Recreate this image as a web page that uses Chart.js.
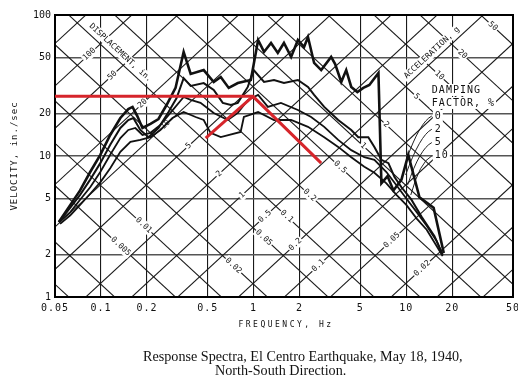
<!DOCTYPE html>
<html>
<head>
<meta charset="utf-8">
<script src="https://cdn.jsdelivr.net/npm/chart.js@4.4.0/dist/chart.umd.min.js"></script>
<style>
  html, body { margin: 0; padding: 0; background: #fff; }
</style>
</head>
<body>
<canvas id="myChart" width="518" height="383"></canvas>
<script>
// axis ticks
const freqTicks = [0.05, 0.1, 0.2, 0.5, 1, 2, 5, 10, 20, 50];
const velTicks = [1, 2, 5, 10, 20, 50, 100];

// damping 0 %
const freq0 = [0.053, 0.063, 0.073, 0.085, 0.099, 0.115, 0.134, 0.151, 0.161, 0.173, 0.187, 0.211, 0.238, 0.269, 0.308, 0.348, 0.387, 0.471, 0.548, 0.609, 0.687, 0.788, 0.959, 1.07, 1.17, 1.30, 1.44, 1.58, 1.76, 1.95, 2.14, 2.27, 2.49, 2.77, 3.22, 3.42, 3.75, 4.04, 4.36, 4.78, 5.23, 5.73, 6.57, 6.87, 7.53, 8.24, 9.30, 10.3, 12.2, 15.1, 17.6];
const vel0 = [3.4, 4.5, 5.7, 7.7, 10.2, 14.1, 18.6, 21.5, 22.3, 19.2, 15.8, 16.9, 18.3, 23.0, 30.4, 54.7, 38.2, 40.7, 33.5, 36.3, 30.4, 32.9, 34.6, 66.5, 54.7, 63.3, 53.8, 63.3, 50.4, 66.5, 59.3, 69.8, 45.7, 40.7, 50.4, 44.9, 33.5, 40.7, 30.9, 28.4, 30.4, 31.9, 38.8, 6.4, 7.2, 5.7, 6.8, 10.2, 5.1, 4.3, 2.05];

// damping 2 %
const freq2 = [0.053, 0.063, 0.073, 0.085, 0.099, 0.115, 0.134, 0.151, 0.163, 0.181, 0.205, 0.238, 0.277, 0.313, 0.348, 0.387, 0.471, 0.548, 0.628, 0.709, 0.788, 0.916, 1.00, 1.17, 1.36, 1.58, 1.95, 2.27, 2.49, 2.90, 3.58, 4.36, 4.85, 5.64, 6.18, 6.87, 7.64, 8.37, 9.30, 10.8, 12.6, 15.3, 17.3];
const vel2 = [3.4, 4.3, 5.3, 6.8, 8.9, 12.0, 15.8, 18.0, 18.6, 15.3, 13.6, 15.8, 20.5, 25.8, 35.7, 31.4, 32.9, 29.4, 23.8, 23.0, 23.8, 30.9, 40.7, 33.5, 34.6, 32.9, 34.6, 30.9, 27.1, 22.3, 18.0, 15.3, 13.6, 13.6, 11.6, 9.4, 8.9, 7.1, 6.0, 4.9, 3.7, 2.7, 2.0];

// damping 5 %
const freq5 = [0.053, 0.063, 0.073, 0.085, 0.099, 0.115, 0.134, 0.151, 0.168, 0.187, 0.211, 0.245, 0.285, 0.348, 0.387, 0.449, 0.548, 0.677, 0.788, 0.918, 1.07, 1.24, 1.51, 1.95, 2.38, 2.90, 3.58, 4.36, 5.31, 6.18, 7.41, 8.62, 10.0, 11.7, 13.6, 15.8, 17.3];
const vel5 = [3.4, 4.0, 4.9, 6.0, 7.7, 10.2, 13.4, 15.3, 15.8, 14.1, 14.6, 16.6, 20.2, 26.2, 25.0, 23.8, 20.2, 18.0, 20.2, 25.0, 27.1, 22.3, 23.8, 21.2, 18.9, 16.1, 13.0, 11.0, 9.8, 9.4, 7.7, 6.2, 5.0, 4.0, 3.2, 2.5, 2.0];

// damping 10 %
const freq10 = [0.054, 0.063, 0.073, 0.085, 0.099, 0.115, 0.134, 0.156, 0.181, 0.211, 0.245, 0.294, 0.348, 0.417, 0.471, 0.522, 0.609, 0.822, 0.863, 1.07, 1.36, 1.76, 2.27, 2.90, 3.58, 4.36, 5.31, 6.18, 7.41, 8.62, 10.0, 11.7, 13.6, 15.8, 17.3];
const vel10 = [3.3, 3.8, 4.5, 5.4, 6.5, 8.2, 10.7, 12.6, 13.0, 13.6, 15.3, 18.6, 20.5, 18.9, 18.0, 14.6, 13.6, 14.8, 18.9, 20.5, 18.0, 18.0, 16.1, 13.6, 11.6, 9.8, 8.4, 7.6, 6.4, 5.3, 4.5, 3.6, 3.0, 2.3, 1.95];

// red design lines
const designFreq = [0.05, 0.99, 2.77];
const designVel = [26.5, 26.5, 8.9];
const designRiseFreq = [0.485, 0.99];
const designRiseVel = [13.4, 26.5];

// tripartite grid: displacement (in.) and acceleration (g)
const dispLines = [0.002, 0.005, 0.01, 0.02, 0.05, 0.1, 0.2, 0.5, 1, 2, 5, 10, 20, 50, 100, 200, 500];
const accelLines = [0.0005, 0.001, 0.002, 0.005, 0.01, 0.02, 0.05, 0.1, 0.2, 0.5, 1, 2, 5, 10, 20, 50, 100];
const dispLabels = [100, 50, 20, 10, 5, 2, 1, 0.5, 0.2, 0.1];
const dispLabelsLow = [0.05, 0.02];
const accelLabels = [50, 20, 10, 5, 2, 1, 0.5, 0.2, 0.1, 0.05, 0.02];
const accelLabelsLow = [0.01, 0.005];
const dampingNames = ['0', '2', '5', '10'];

const G = 386.4; // in/s^2
const TWO_PI = 2 * Math.PI;
const velFromDisp = (f, d) => TWO_PI * f * d;
const velFromAccel = (f, a) => a * G / (TWO_PI * f);
// where a displacement line crosses an acceleration line
function cross(d, a) {
  const f = Math.sqrt(a * G / (TWO_PI * TWO_PI * d));
  return { f: f, v: TWO_PI * f * d };
}

const toPoints = (fs, vs) => fs.map((f, i) => ({ x: f, y: vs[i] }));
const MONO = '"DejaVu Sans Mono", monospace';

function tag(ctx, text, px, py, angle, font, pad) {
  ctx.save();
  ctx.translate(px, py);
  ctx.rotate(angle);
  ctx.font = font;
  const w = ctx.measureText(text).width;
  ctx.fillStyle = '#fff';
  ctx.fillRect(-w / 2 - pad, -5, w + pad * 2, 10);
  ctx.fillStyle = '#111';
  ctx.textAlign = 'center';
  ctx.textBaseline = 'middle';
  ctx.fillText(text, 0, 0);
  ctx.restore();
}

function boxText(ctx, text, x, y) {
  const w = ctx.measureText(text).width;
  ctx.fillStyle = '#fff';
  ctx.fillRect(x - 2, y - 6, w + 3, 12);
  ctx.fillStyle = '#111';
  ctx.fillText(text, x, y);
}

const tripartite = {
  id: 'tripartite',
  beforeDatasetsDraw(chart) {
    const { ctx, chartArea: a } = chart;
    const x = chart.scales.x, y = chart.scales.y;
    const px = f => x.getPixelForValue(f);
    const py = v => y.getPixelForValue(v);
    const f1 = 0.05, f2 = 50;

    ctx.save();
    ctx.beginPath();
    ctx.rect(a.left, a.top, a.right - a.left, a.bottom - a.top);
    ctx.clip();
    ctx.strokeStyle = '#1a1a1a';
    ctx.lineWidth = 1.1;
    dispLines.forEach(d => {
      ctx.beginPath();
      ctx.moveTo(px(f1), py(velFromDisp(f1, d)));
      ctx.lineTo(px(f2), py(velFromDisp(f2, d)));
      ctx.stroke();
    });
    accelLines.forEach(g => {
      ctx.beginPath();
      ctx.moveTo(px(f1), py(velFromAccel(f1, g)));
      ctx.lineTo(px(f2), py(velFromAccel(f2, g)));
      ctx.stroke();
    });

    // slope of a displacement line on screen
    const up = Math.atan2(py(10) - py(1), px(10) - px(1));
    const down = -up;
    const small = '8px ' + MONO;
    dispLabels.forEach(d => {
      const p = cross(d, 0.072);
      tag(ctx, String(d), px(p.f), py(p.v), up, small, 1);
    });
    dispLabelsLow.forEach(d => {
      const p = cross(d, 0.33);
      tag(ctx, String(d), px(p.f), py(p.v), up, small, 1);
    });
    accelLabels.forEach(g => {
      const p = cross(0.36, g);
      tag(ctx, String(g), px(p.f), py(p.v), down, small, 1);
    });
    accelLabelsLow.forEach(g => {
      const p = cross(2.7, g);
      tag(ctx, String(g), px(p.f), py(p.v), down, small, 1);
    });
    tag(ctx, 'DISPLACEMENT, in.', px(0.134), py(54), down, small, 2);
    tag(ctx, 'ACCELERATION, g', px(14.7), py(54), up, small, 2);
    ctx.restore();

    // frame
    ctx.save();
    ctx.strokeStyle = '#000';
    ctx.lineWidth = 2;
    ctx.strokeRect(a.left, a.top, a.right - a.left, a.bottom - a.top);
    ctx.restore();

    // damping key
    ctx.save();
    const kx = px(14.7), ky = py(29.4);
    ctx.font = '10px ' + MONO;
    ctx.letterSpacing = '1px';
    ctx.textBaseline = 'middle';
    boxText(ctx, 'DAMPING', kx, ky);
    boxText(ctx, 'FACTOR, %', kx, ky + 13);
    const ends = [[10.0, 9.36], [9.9, 7.33], [10.2, 6.23], [10.7, 5.29]];
    ctx.strokeStyle = '#222';
    ctx.lineWidth = 1;
    dampingNames.forEach((n, i) => {
      const ly = ky + 26 + i * 13.3;
      boxText(ctx, n, kx + 3, ly);
      ctx.beginPath();
      ctx.moveTo(kx, ly);
      ctx.quadraticCurveTo(kx - 12, ly + 6, px(ends[i][0]), py(ends[i][1]));
      ctx.stroke();
    });
    ctx.restore();
  },
  afterDraw(chart) {
    const { ctx, chartArea: a } = chart;
    const x = chart.scales.x, y = chart.scales.y;
    ctx.save();
    ctx.fillStyle = '#111';
    ctx.font = '10px ' + MONO;
    ctx.textBaseline = 'middle';
    ctx.textAlign = 'right';
    velTicks.forEach(v => ctx.fillText(String(v), a.left - 4, y.getPixelForValue(v)));
    ctx.textAlign = 'center';
    ctx.letterSpacing = '1px';
    freqTicks.forEach(f => ctx.fillText(String(f), x.getPixelForValue(f), a.bottom + 11));

    ctx.font = '8px ' + MONO;
    ctx.letterSpacing = '2.5px';
    ctx.fillText('FREQUENCY, Hz', (a.left + a.right) / 2 + 2, a.bottom + 28);

    ctx.save();
    ctx.translate(15, 156);
    ctx.rotate(-Math.PI / 2);
    ctx.font = '9px ' + MONO;
    ctx.letterSpacing = '1px';
    ctx.fillText('VELOCITY, in./sec', 0, 0);
    ctx.restore();

    ctx.letterSpacing = '0px';
    ctx.textAlign = 'left';
    ctx.font = '12px "Liberation Serif", serif';
    const line1 = 'Response Spectra, El Centro Earthquake, May 18, 1940,';
    const scale = 320 / ctx.measureText(line1).width;
    ctx.font = (12 * scale).toFixed(2) + 'px "Liberation Serif", serif';
    ctx.fillText(line1, 143, 357);
    ctx.fillText('North-South Direction.', 215, 371);
    ctx.restore();
  }
};

const curve = (fs, vs, w, color) => ({
  data: toPoints(fs, vs),
  showLine: true,
  borderColor: color,
  borderWidth: w,
  pointRadius: 0,
  fill: false,
  tension: 0
});

const ctx = document.getElementById('myChart').getContext('2d');
const myChart = new Chart(ctx, {
  type: 'scatter',
  data: {
    datasets: [
      curve(designFreq, designVel, 3, '#d6252b'),
      curve(designRiseFreq, designRiseVel, 3, '#d6252b'),
      curve(freq0, vel0, 2.6, '#111'),
      curve(freq2, vel2, 2, '#111'),
      curve(freq5, vel5, 1.8, '#111'),
      curve(freq10, vel10, 1.8, '#111')
    ]
  },
  options: {
    responsive: false,
    animation: false,
    devicePixelRatio: 1,
    events: [],
    layout: { padding: { top: 15, right: 5, left: 0, bottom: 0 } },
    plugins: {
      legend: { display: false },
      tooltip: { enabled: false }
    },
    scales: {
      x: {
        type: 'logarithmic',
        min: 0.05,
        max: 50,
        afterBuildTicks: s => { s.ticks = freqTicks.map(v => ({ value: v })); },
        afterFit: s => { s.height = 86; },
        ticks: { display: false },
        grid: { color: '#1a1a1a', lineWidth: 1.1, drawTicks: false },
        border: { color: '#000', width: 2 }
      },
      y: {
        type: 'logarithmic',
        min: 1,
        max: 100,
        afterBuildTicks: s => { s.ticks = velTicks.map(v => ({ value: v })); },
        afterFit: s => { s.width = 55; },
        ticks: { display: false },
        grid: { color: '#555', lineWidth: 1.4, drawTicks: false },
        border: { color: '#000', width: 2 }
      }
    }
  },
  plugins: [tripartite]
});
</script>
</body>
</html>
